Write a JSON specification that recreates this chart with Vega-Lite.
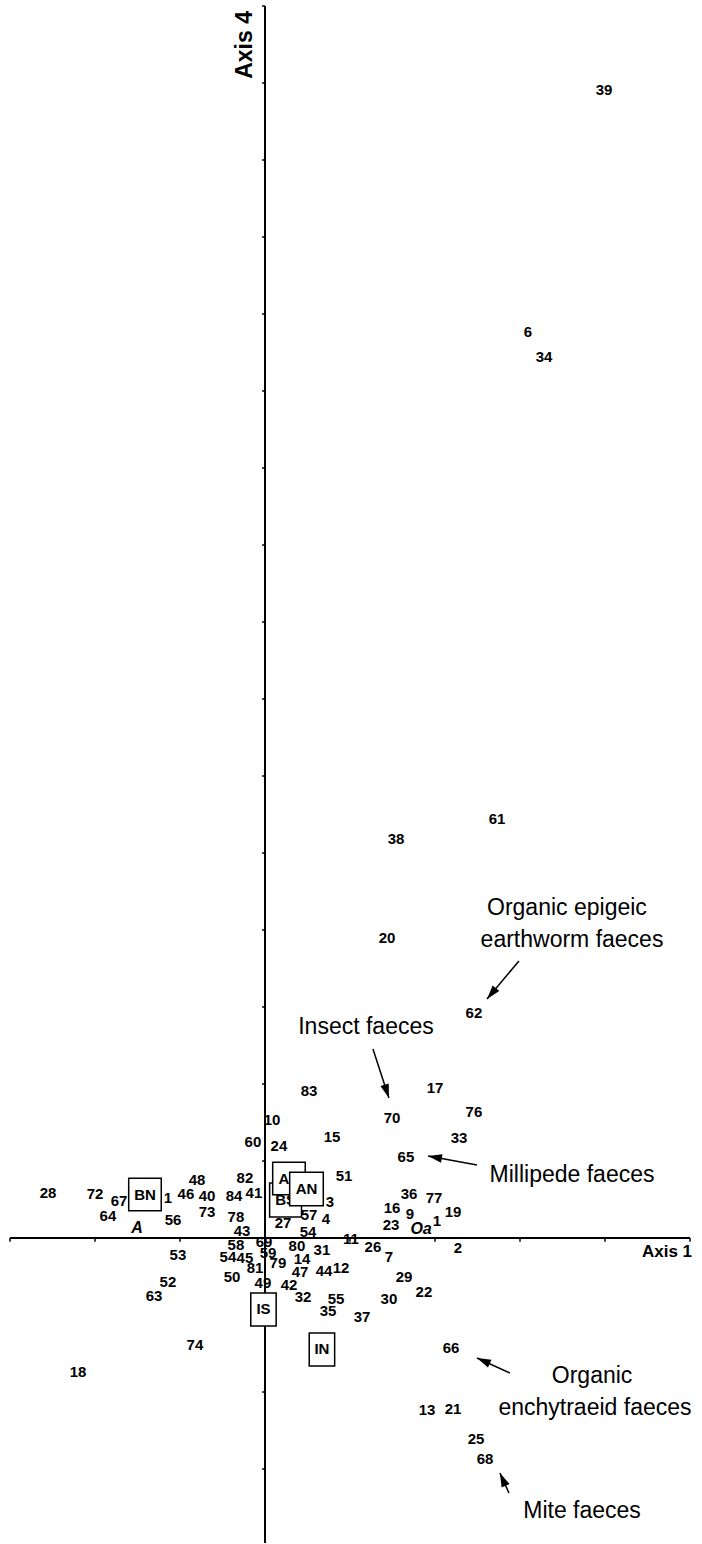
{
  "$schema": "https://vega.github.io/schema/vega-lite/v6.json",
  "width": 680,
  "height": 1538,
  "autosize": {"type": "none"},
  "padding": {"left": 10, "top": 6, "right": 12, "bottom": 0},
  "background": "white",
  "config": {"view": {"stroke": null}, "font": "Liberation Sans"},
  "datasets": {
    "samples": [
      {"label":"39","axis1":1.994,"axis4":7.455},
      {"label":"6","axis1":1.547,"axis4":5.883},
      {"label":"34","axis1":1.641,"axis4":5.721},
      {"label":"61","axis1":1.365,"axis4":2.721},
      {"label":"38","axis1":0.771,"axis4":2.591},
      {"label":"20","axis1":0.718,"axis4":1.948},
      {"label":"62","axis1":1.229,"axis4":1.461},
      {"label":"83","axis1":0.259,"axis4":0.955},
      {"label":"17","axis1":1.0,"axis4":0.974},
      {"label":"10","axis1":0.041,"axis4":0.766},
      {"label":"70","axis1":0.747,"axis4":0.779},
      {"label":"76","axis1":1.229,"axis4":0.818},
      {"label":"15","axis1":0.394,"axis4":0.656},
      {"label":"33","axis1":1.141,"axis4":0.649},
      {"label":"60","axis1":-0.071,"axis4":0.623},
      {"label":"24","axis1":0.082,"axis4":0.597},
      {"label":"65","axis1":0.829,"axis4":0.526},
      {"label":"51","axis1":0.465,"axis4":0.403},
      {"label":"82","axis1":-0.118,"axis4":0.390},
      {"label":"48","axis1":-0.4,"axis4":0.377},
      {"label":"28","axis1":-1.276,"axis4":0.292},
      {"label":"72","axis1":-1.0,"axis4":0.286},
      {"label":"67","axis1":-0.859,"axis4":0.240},
      {"label":"1","axis1":-0.571,"axis4":0.260},
      {"label":"46","axis1":-0.465,"axis4":0.286},
      {"label":"40","axis1":-0.341,"axis4":0.273},
      {"label":"84","axis1":-0.182,"axis4":0.273},
      {"label":"41","axis1":-0.065,"axis4":0.292},
      {"label":"36","axis1":0.847,"axis4":0.286},
      {"label":"77","axis1":0.994,"axis4":0.260},
      {"label":"3","axis1":0.382,"axis4":0.234},
      {"label":"16","axis1":0.747,"axis4":0.195},
      {"label":"9","axis1":0.853,"axis4":0.156},
      {"label":"19","axis1":1.106,"axis4":0.169},
      {"label":"1","axis1":1.012,"axis4":0.110},
      {"label":"64","axis1":-0.924,"axis4":0.143},
      {"label":"56","axis1":-0.541,"axis4":0.117},
      {"label":"73","axis1":-0.341,"axis4":0.169},
      {"label":"78","axis1":-0.171,"axis4":0.136},
      {"label":"57","axis1":0.259,"axis4":0.149},
      {"label":"4","axis1":0.359,"axis4":0.123},
      {"label":"27","axis1":0.106,"axis4":0.097},
      {"label":"23","axis1":0.741,"axis4":0.084},
      {"label":"43","axis1":-0.135,"axis4":0.045},
      {"label":"54","axis1":0.253,"axis4":0.039},
      {"label":"11","axis1":0.506,"axis4":-0.006},
      {"label":"69","axis1":-0.006,"axis4":-0.026},
      {"label":"58","axis1":-0.171,"axis4":-0.045},
      {"label":"80","axis1":0.188,"axis4":-0.052},
      {"label":"2","axis1":1.135,"axis4":-0.065},
      {"label":"26","axis1":0.635,"axis4":-0.058},
      {"label":"31","axis1":0.335,"axis4":-0.078},
      {"label":"59","axis1":0.018,"axis4":-0.097},
      {"label":"53","axis1":-0.512,"axis4":-0.110},
      {"label":"54","axis1":-0.218,"axis4":-0.123},
      {"label":"45","axis1":-0.118,"axis4":-0.130},
      {"label":"7","axis1":0.729,"axis4":-0.123},
      {"label":"14","axis1":0.218,"axis4":-0.136},
      {"label":"79","axis1":0.076,"axis4":-0.162},
      {"label":"81","axis1":-0.059,"axis4":-0.195},
      {"label":"12","axis1":0.447,"axis4":-0.195},
      {"label":"44","axis1":0.347,"axis4":-0.214},
      {"label":"47","axis1":0.206,"axis4":-0.221},
      {"label":"50","axis1":-0.194,"axis4":-0.253},
      {"label":"29","axis1":0.818,"axis4":-0.253},
      {"label":"52","axis1":-0.571,"axis4":-0.286},
      {"label":"49","axis1":-0.012,"axis4":-0.292},
      {"label":"42","axis1":0.141,"axis4":-0.305},
      {"label":"22","axis1":0.935,"axis4":-0.351},
      {"label":"63","axis1":-0.653,"axis4":-0.377},
      {"label":"32","axis1":0.224,"axis4":-0.383},
      {"label":"55","axis1":0.418,"axis4":-0.396},
      {"label":"30","axis1":0.729,"axis4":-0.396},
      {"label":"35","axis1":0.371,"axis4":-0.474},
      {"label":"37","axis1":0.571,"axis4":-0.513},
      {"label":"74","axis1":-0.412,"axis4":-0.695},
      {"label":"66","axis1":1.094,"axis4":-0.714},
      {"label":"18","axis1":-1.1,"axis4":-0.870},
      {"label":"13","axis1":0.953,"axis4":-1.117},
      {"label":"21","axis1":1.106,"axis4":-1.110},
      {"label":"25","axis1":1.241,"axis4":-1.305},
      {"label":"68","axis1":1.294,"axis4":-1.435}
    ],
    "horizons": [
      {"label":"A","axis1":-0.753,"axis4":0.065},
      {"label":"Oa","axis1":0.918,"axis4":0.058}
    ],
    "groups": [
      {"group":"BN","axis1":-0.706,"axis4":0.282},
      {"group":"IS","axis1":-0.009,"axis4":-0.464},
      {"group":"IN","axis1":0.335,"axis4":-0.724},
      {"group":"BS","axis1":0.121,"axis4":0.247},
      {"group":"AS","axis1":0.141,"axis4":0.386},
      {"group":"AN","axis1":0.244,"axis4":0.318}
    ],
    "notes": [
      {"text":"Millipede faeces","axis1":1.806,"axis4":0.409},
      {"text":"Organic","axis1":1.924,"axis4":-0.896},
      {"text":"enchytraeid faeces","axis1":1.941,"axis4":-1.104},
      {"text":"Mite faeces","axis1":1.865,"axis4":-1.773},
      {"text":"Organic epigeic","axis1":1.776,"axis4":2.143},
      {"text":"earthworm faeces","axis1":1.806,"axis4":1.935},
      {"text":"Insect faeces","axis1":0.594,"axis4":1.370}
    ],
    "arrows": [
      {"note":"Millipede faeces","x_from":1.247,"y_from":0.474,"x_to":0.959,"y_to":0.532,"heading":280},
      {"note":"Organic enchytraeid faeces","x_from":1.441,"y_from":-0.877,"x_to":1.247,"y_to":-0.779,"heading":294},
      {"note":"Mite faeces","x_from":1.435,"y_from":-1.656,"x_to":1.382,"y_to":-1.526,"heading":336},
      {"note":"Organic epigeic earthworm faeces","x_from":1.494,"y_from":1.799,"x_to":1.306,"y_to":1.552,"heading":220},
      {"note":"Insect faeces","x_from":0.635,"y_from":1.227,"x_to":0.729,"y_to":0.909,"heading":162}
    ],
    "axislines": [
      {"name":"Axis 1","x1":-1.5,"x2":2.5,"y1":0,"y2":0},
      {"name":"Axis 4","x1":0,"x2":0,"y1":-1.98,"y2":8}
    ],
    "axistitles": [
      {"name":"Axis 1","axis1":2.512,"axis4":-0.091},
      {"name":"Axis 4","axis1":-0.118,"axis4":7.747}
    ],
    "ticks": [
      {"axis":"Axis 1","at":-1.5},{"axis":"Axis 1","at":-1},{"axis":"Axis 1","at":-0.5},
      {"axis":"Axis 1","at":0.5},{"axis":"Axis 1","at":1},{"axis":"Axis 1","at":1.5},
      {"axis":"Axis 1","at":2},{"axis":"Axis 1","at":2.5},
      {"axis":"Axis 4","at":-1.5},{"axis":"Axis 4","at":-1},{"axis":"Axis 4","at":-0.5},
      {"axis":"Axis 4","at":0.5},{"axis":"Axis 4","at":1},{"axis":"Axis 4","at":1.5},
      {"axis":"Axis 4","at":2},{"axis":"Axis 4","at":2.5},{"axis":"Axis 4","at":3},
      {"axis":"Axis 4","at":3.5},{"axis":"Axis 4","at":4},{"axis":"Axis 4","at":4.5},
      {"axis":"Axis 4","at":5},{"axis":"Axis 4","at":5.5},{"axis":"Axis 4","at":6},
      {"axis":"Axis 4","at":6.5},{"axis":"Axis 4","at":7},{"axis":"Axis 4","at":7.5},
      {"axis":"Axis 4","at":8}
    ]
  },
  "layer": [
    {
      "data": {"name": "axislines"},
      "mark": {"type": "rule", "color": "black", "strokeWidth": 2},
      "encoding": {
        "x": {"field": "x1", "type": "quantitative", "scale": {"domain": [-1.5, 2.5], "nice": false, "zero": false}, "axis": null},
        "x2": {"field": "x2"},
        "y": {"field": "y1", "type": "quantitative", "scale": {"domain": [-1.987, 8], "nice": false, "zero": false}, "axis": null},
        "y2": {"field": "y2"}
      }
    },
    {
      "data": {"name": "ticks"},
      "transform": [{"filter": "datum.axis === 'Axis 1'"}],
      "mark": {"type": "rule", "color": "black", "strokeWidth": 1.5},
      "encoding": {
        "x": {"field": "at", "type": "quantitative"},
        "y": {"datum": 0},
        "y2": {"datum": -0.025}
      }
    },
    {
      "data": {"name": "ticks"},
      "transform": [{"filter": "datum.axis === 'Axis 4'"}],
      "mark": {"type": "rule", "color": "black", "strokeWidth": 1.5},
      "encoding": {
        "y": {"field": "at", "type": "quantitative"},
        "x": {"datum": -0.017},
        "x2": {"datum": 0}
      }
    },
    {
      "data": {"name": "samples"},
      "mark": {"type": "text", "fontSize": 15, "fontWeight": "bold", "color": "black", "align": "center", "baseline": "middle"},
      "encoding": {
        "x": {"field": "axis1", "type": "quantitative"},
        "y": {"field": "axis4", "type": "quantitative"},
        "text": {"field": "label"}
      }
    },
    {
      "data": {"name": "horizons"},
      "mark": {"type": "text", "fontSize": 16, "fontWeight": "bold", "fontStyle": "italic", "color": "black", "align": "center", "baseline": "middle"},
      "encoding": {
        "x": {"field": "axis1", "type": "quantitative"},
        "y": {"field": "axis4", "type": "quantitative"},
        "text": {"field": "label"}
      }
    },
    {
      "data": {"name": "arrows"},
      "mark": {"type": "rule", "color": "black", "strokeWidth": 1.5},
      "encoding": {
        "x": {"field": "x_from", "type": "quantitative"},
        "x2": {"field": "x_to"},
        "y": {"field": "y_from", "type": "quantitative"},
        "y2": {"field": "y_to"}
      }
    },
    {
      "data": {"name": "arrows"},
      "mark": {"type": "point", "shape": "M0,0L0.75,2.4L-0.75,2.4Z", "size": 135, "filled": true, "color": "black", "opacity": 1, "strokeWidth": 0},
      "encoding": {
        "x": {"field": "x_to", "type": "quantitative"},
        "y": {"field": "y_to", "type": "quantitative"},
        "angle": {"field": "heading", "type": "quantitative", "scale": null}
      }
    },
    {
      "data": {"name": "notes"},
      "mark": {"type": "text", "fontSize": 23, "color": "black", "align": "center", "baseline": "middle"},
      "encoding": {
        "x": {"field": "axis1", "type": "quantitative"},
        "y": {"field": "axis4", "type": "quantitative"},
        "text": {"field": "text"}
      }
    },
    {
      "data": {"name": "axistitles"},
      "transform": [{"filter": "datum.name === 'Axis 1'"}],
      "mark": {"type": "text", "fontSize": 17, "fontWeight": "bold", "color": "black", "align": "right", "baseline": "middle"},
      "encoding": {
        "x": {"field": "axis1", "type": "quantitative"},
        "y": {"field": "axis4", "type": "quantitative"},
        "text": {"field": "name"}
      }
    },
    {
      "data": {"name": "axistitles"},
      "transform": [{"filter": "datum.name === 'Axis 4'"}],
      "mark": {"type": "text", "fontSize": 23, "fontWeight": "bold", "color": "black", "align": "center", "baseline": "middle", "angle": 270},
      "encoding": {
        "x": {"field": "axis1", "type": "quantitative"},
        "y": {"field": "axis4", "type": "quantitative"},
        "text": {"field": "name"}
      }
    },
    {
      "data": {"name": "groups"},
      "transform": [{"filter": "datum.group === 'BN'"}],
      "mark": {"type": "point", "shape": "square", "size": 1060, "filled": false, "fill": "white", "fillOpacity": 1, "stroke": "black", "strokeWidth": 1.5, "opacity": 1},
      "encoding": {
        "x": {"field": "axis1", "type": "quantitative"},
        "y": {"field": "axis4", "type": "quantitative"}
      }
    },
    {
      "data": {"name": "groups"},
      "transform": [{"filter": "datum.group === 'IS' || datum.group === 'IN'"}],
      "mark": {"type": "point", "shape": "M-0.77,-1L0.77,-1L0.77,1L-0.77,1Z", "size": 1089, "filled": false, "fill": "white", "fillOpacity": 1, "stroke": "black", "strokeWidth": 1.5, "opacity": 1},
      "encoding": {
        "x": {"field": "axis1", "type": "quantitative"},
        "y": {"field": "axis4", "type": "quantitative"}
      }
    },
    {
      "data": {"name": "groups"},
      "transform": [{"filter": "datum.group === 'BN' || datum.group === 'IS' || datum.group === 'IN'"}],
      "mark": {"type": "text", "fontSize": 15, "fontWeight": "bold", "color": "black", "align": "center", "baseline": "middle"},
      "encoding": {
        "x": {"field": "axis1", "type": "quantitative"},
        "y": {"field": "axis4", "type": "quantitative"},
        "text": {"field": "group"}
      }
    },
    {
      "data": {"name": "groups"},
      "transform": [{"filter": "datum.group === 'BS'"}],
      "mark": {"type": "point", "shape": "M-0.94,-1L0.94,-1L0.94,1L-0.94,1Z", "size": 1150, "filled": false, "fill": "white", "fillOpacity": 1, "stroke": "black", "strokeWidth": 1.5, "opacity": 1},
      "encoding": {
        "x": {"field": "axis1", "type": "quantitative"},
        "y": {"field": "axis4", "type": "quantitative"}
      }
    },
    {
      "data": {"name": "groups"},
      "transform": [{"filter": "datum.group === 'BS'"}],
      "mark": {"type": "text", "fontSize": 15, "fontWeight": "bold", "color": "black", "align": "center", "baseline": "middle"},
      "encoding": {
        "x": {"field": "axis1", "type": "quantitative"},
        "y": {"field": "axis4", "type": "quantitative"},
        "text": {"field": "group"}
      }
    },
    {
      "data": {"name": "groups"},
      "transform": [{"filter": "datum.group === 'AS'"}],
      "mark": {"type": "point", "shape": "square", "size": 1060, "filled": false, "fill": "white", "fillOpacity": 1, "stroke": "black", "strokeWidth": 1.5, "opacity": 1},
      "encoding": {
        "x": {"field": "axis1", "type": "quantitative"},
        "y": {"field": "axis4", "type": "quantitative"}
      }
    },
    {
      "data": {"name": "groups"},
      "transform": [{"filter": "datum.group === 'AS'"}],
      "mark": {"type": "text", "fontSize": 15, "fontWeight": "bold", "color": "black", "align": "center", "baseline": "middle"},
      "encoding": {
        "x": {"field": "axis1", "type": "quantitative"},
        "y": {"field": "axis4", "type": "quantitative"},
        "text": {"field": "group"}
      }
    },
    {
      "data": {"name": "groups"},
      "transform": [{"filter": "datum.group === 'AN'"}],
      "mark": {"type": "point", "shape": "square", "size": 1130, "filled": false, "fill": "white", "fillOpacity": 1, "stroke": "black", "strokeWidth": 1.5, "opacity": 1},
      "encoding": {
        "x": {"field": "axis1", "type": "quantitative"},
        "y": {"field": "axis4", "type": "quantitative"}
      }
    },
    {
      "data": {"name": "groups"},
      "transform": [{"filter": "datum.group === 'AN'"}],
      "mark": {"type": "text", "fontSize": 15, "fontWeight": "bold", "color": "black", "align": "center", "baseline": "middle"},
      "encoding": {
        "x": {"field": "axis1", "type": "quantitative"},
        "y": {"field": "axis4", "type": "quantitative"},
        "text": {"field": "group"}
      }
    }
  ]
}
